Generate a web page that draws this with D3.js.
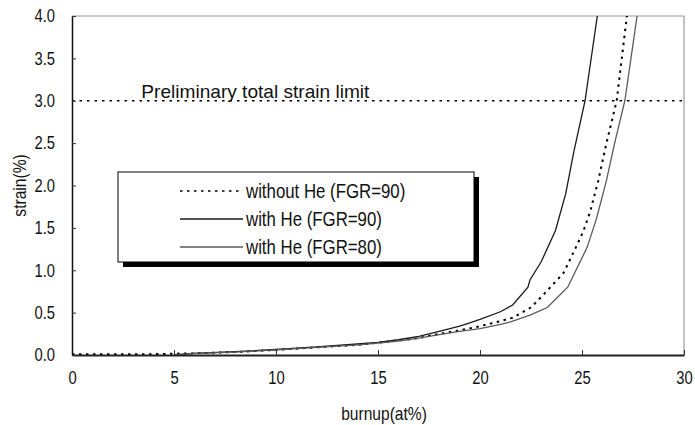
<!DOCTYPE html>
<html>
<head>
<meta charset="utf-8">
<script src="https://cdn.jsdelivr.net/npm/d3@7"></script>
<style>
    body { margin: 0; background: #fff; }
    svg text { font-family: "Liberation Sans", Arial, sans-serif; fill: #111; }
</style>
</head>
<body>
<svg id="chart" width="695" height="425"></svg>
<script>
// values
const xTicks = [0, 5, 10, 15, 20, 25, 30];
const yTicks = [0, 0.5, 1, 1.5, 2, 2.5, 3, 3.5, 4];
const strainLimit = 3.0;
const limitLabel = 'Preliminary total strain limit';

// [burnup, strain]
const withoutHe90 = [[0,0.01],[2,0.01],[4,0.01],[5,0.015],[6,0.02],[8,0.035],[10,0.06],[12,0.09],[14,0.12],[15,0.145],
    [16,0.17],[17,0.2],[18,0.25],[19,0.29],[20,0.34],[21,0.4],[21.6,0.44],[22.5,0.56],[23.1,0.71],[23.8,0.89],
    [24.1,0.97],[24.6,1.22],[25.05,1.45],[25.4,1.69],[25.8,2.06],[26.2,2.5],[26.7,3.0],[27.2,4.0]];
const withHe90 = [[5,0.0],[6,0.02],[8,0.04],[10,0.065],[12,0.095],[14,0.13],[15,0.15],[16,0.18],[17,0.22],[18,0.28],
    [19,0.34],[19.5,0.38],[20,0.42],[21,0.51],[21.6,0.59],[22.35,0.8],[22.45,0.885],[23,1.1],[23.7,1.47],[24.2,1.9],
    [24.6,2.4],[25.15,3.0],[25.75,4.0]];
const withHe80 = [[5,0.0],[6,0.02],[8,0.035],[10,0.06],[12,0.09],[14,0.12],[15,0.14],[16,0.165],[17,0.2],[18,0.24],
    [19,0.28],[20,0.31],[21,0.36],[21.5,0.39],[22.45,0.47],[23.3,0.56],[24.3,0.8],[25.25,1.27],[25.7,1.6],[26.2,2.06],
    [26.6,2.5],[27.1,3.0],[27.7,4.0]];

const seriesNames = ['without He (FGR=90)', 'with He (FGR=90)', 'with He (FGR=80)'];

const svg = d3.select('#chart');
const margin = {left: 72, right: 11, top: 16, bottom: 70};
const W = 695, H = 425;
const x = d3.scaleLinear().domain([0, 30]).range([margin.left, W - margin.right]);
const y = d3.scaleLinear().domain([0, 4]).range([H - margin.bottom, margin.top]);

const styles = [
    {stroke: '#000', width: 2, dash: '2.5,4.5'},
    {stroke: '#1a1a1a', width: 1.3, dash: null},
    {stroke: '#5a5a5a', width: 1.3, dash: null}
];

// squeeze glyphs horizontally, the original uses a condensed face
const narrow = (sel, f = 0.82) => sel.each(function () {
    const len = this.getComputedTextLength();
    d3.select(this).attr('textLength', len * f).attr('lengthAdjust', 'spacingAndGlyphs');
});

svg.append('clipPath').attr('id', 'plotClip')
    .append('rect')
    .attr('x', x(0)).attr('y', y(4))
    .attr('width', x(30) - x(0)).attr('height', y(0) - y(4));

// frame: top and right in grey
svg.append('path')
    .attr('d', `M${x(0)},${y(4)}H${x(30)}V${y(0)}`)
    .attr('fill', 'none')
    .attr('stroke', '#999')
    .attr('stroke-width', 1.2);

// strain limit line
svg.append('line')
    .attr('x1', x(0)).attr('x2', x(30))
    .attr('y1', y(strainLimit)).attr('y2', y(strainLimit))
    .attr('stroke', '#000')
    .attr('stroke-width', 1.6)
    .attr('stroke-dasharray', '2.5,5');
svg.append('text')
    .attr('x', x(3.4))
    .attr('y', y(strainLimit) - 3)
    .attr('font-size', 19)
    .attr('textLength', 228)
    .attr('lengthAdjust', 'spacingAndGlyphs')
    .text(limitLabel);

// curves
const line = d3.line().x(d => x(d[0])).y(d => y(d[1]));
const curves = [withoutHe90, withHe90, withHe80];
svg.append('g').attr('clip-path', 'url(#plotClip)')
    .selectAll('path')
    .data(curves)
    .join('path')
    .attr('d', d => line(d))
    .attr('fill', 'none')
    .attr('stroke', (d, i) => styles[i].stroke)
    .attr('stroke-width', (d, i) => styles[i].width)
    .attr('stroke-dasharray', (d, i) => styles[i].dash);

// axes
const xAxis = svg.append('g')
    .attr('transform', `translate(0,${y(0)})`)
    .call(d3.axisBottom(x).tickValues(xTicks).tickSizeInner(-5).tickSizeOuter(0).tickPadding(16).tickFormat(d3.format('d')));
xAxis.select('.domain').attr('stroke', '#222').attr('stroke-width', 2);
xAxis.selectAll('.tick line').attr('stroke', '#333');
xAxis.selectAll('text').attr('font-size', 18).attr('fill', '#111').attr('font-family', null).call(narrow);

const yAxis = svg.append('g')
    .attr('transform', `translate(${x(0)},0)`)
    .call(d3.axisLeft(y).tickValues(yTicks).tickSizeInner(-4).tickSizeOuter(0).tickPadding(17).tickFormat(d3.format('.1f')));
yAxis.select('.domain').attr('stroke', '#111').attr('stroke-width', 1.5);
yAxis.selectAll('.tick line').attr('stroke', '#333');
yAxis.selectAll('text').attr('font-size', 18).attr('fill', '#111').attr('font-family', null).call(narrow);

svg.append('text')
    .attr('x', (x(0) + x(30)) / 2 + 6)
    .attr('y', 420)
    .attr('text-anchor', 'middle')
    .attr('font-size', 19)
    .text('burnup(at%)')
    .call(narrow);
svg.append('text')
    .attr('transform', `translate(26,${y(2)}) rotate(-90)`)
    .attr('text-anchor', 'middle')
    .attr('font-size', 19)
    .text('strain(%)')
    .call(narrow);

// legend with drop shadow
const lg = {x: 118, y: 172, w: 356, h: 90, off: 5};
svg.append('rect')
    .attr('x', lg.x + lg.off).attr('y', lg.y + lg.off)
    .attr('width', lg.w).attr('height', lg.h)
    .attr('fill', '#000');
svg.append('rect')
    .attr('x', lg.x).attr('y', lg.y)
    .attr('width', lg.w).attr('height', lg.h)
    .attr('fill', '#fff')
    .attr('stroke', '#000')
    .attr('stroke-width', 1);
const rows = svg.append('g').selectAll('g')
    .data(seriesNames)
    .join('g')
    .attr('transform', (d, i) => `translate(0,${191 + i * 28})`);
rows.append('line')
    .attr('x1', 180).attr('x2', 243)
    .attr('stroke', (d, i) => styles[i].stroke)
    .attr('stroke-width', (d, i) => i === 0 ? 1.6 : 1.3)
    .attr('stroke-dasharray', (d, i) => styles[i].dash);
rows.append('text')
    .attr('x', 246)
    .attr('dy', '0.36em')
    .attr('font-size', 20.5)
    .text(d => d)
    .call(narrow);
</script>
</body>
</html>
